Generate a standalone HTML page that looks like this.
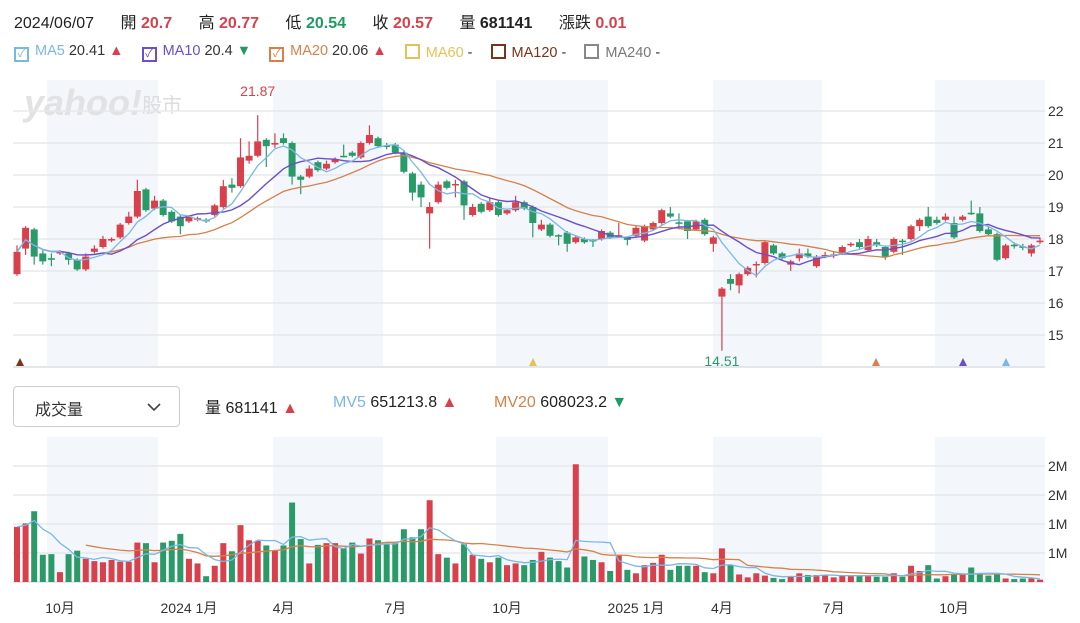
<!DOCTYPE html>
<html><head><meta charset="utf-8">
<style>
body{margin:0;background:#fff;font-family:"Liberation Sans","Noto Sans CJK TC",sans-serif;}
#wrap{position:relative;width:1080px;height:623px;overflow:hidden;}
.hdr{position:absolute;top:9px;left:14px;font-size:16px;color:#222;white-space:nowrap;}
.hdr span{margin-right:22px}
.hdr b{font-weight:bold}
.r{color:#d8404c}.g{color:#1f9a62}
.leg{position:absolute;top:43px;left:14px;font-size:14.5px;color:#333;white-space:nowrap;}
.leg .it{display:inline-block;margin-right:14px;vertical-align:middle}
.cb{display:inline-block;width:15px;height:15px;border:2px solid;box-sizing:border-box;vertical-align:-2px;margin-right:6px;font-size:11px;line-height:11px;text-align:center}
.dd{position:absolute;left:13px;top:386px;width:167px;height:41px;border:1px solid #ccc;border-radius:4px;box-sizing:border-box;font-size:16px;color:#333;}
.vinfo{position:absolute;top:394px;font-size:16px;white-space:nowrap;color:#222}
</style></head><body>
<div id="wrap">
<div class="hdr">
<span>2024/06/07</span>
<span>開 <b class="r">20.7</b></span>
<span>高 <b class="r">20.77</b></span>
<span>低 <b class="g">20.54</b></span>
<span>收 <b class="r">20.57</b></span>
<span>量 <b>681141</b></span>
<span>漲跌 <b class="r">0.01</b></span>
</div>
<div class="leg">
<span class="it"><span class="cb" style="border-color:#7ab8e4;color:#7ab8e4">✓</span><span style="color:#7ab8e4">MA5</span> 20.41 <span class="r">▲</span></span>
<span class="it"><span class="cb" style="border-color:#6a4fc8;color:#6a4fc8">✓</span><span style="color:#6a4fc8">MA10</span> 20.4 <span class="g">▼</span></span>
<span class="it"><span class="cb" style="border-color:#d7804a;color:#d7804a">✓</span><span style="color:#d7804a">MA20</span> 20.06 <span class="r">▲</span></span>
<span class="it"><span class="cb" style="border-color:#e6c15a"></span><span style="color:#e6c15a">MA60</span> -</span>
<span class="it"><span class="cb" style="border-color:#7a3418"></span><span style="color:#7a3418">MA120</span> -</span>
<span class="it"><span class="cb" style="border-color:#888"></span><span style="color:#777">MA240</span> -</span>
</div>
<div class="dd"><span style="position:absolute;left:21px;top:9px">成交量</span>
<svg style="position:absolute;left:133px;top:15px" width="14" height="10"><polyline points="1,2 7,8 13,2" fill="none" stroke="#444" stroke-width="1.6"/></svg></div>
<div class="vinfo" style="left:205px">量 681141 <span class="r">▲</span></div>
<div class="vinfo" style="left:333px"><span style="color:#7ab8e4">MV5</span> 651213.8 <span class="r">▲</span></div>
<div class="vinfo" style="left:494px"><span style="color:#d7804a">MV20</span> 608023.2 <span class="g">▼</span></div>
<svg id="svg" width="1080" height="623" style="position:absolute;left:0;top:0"></svg>
</div>
<script>
const opens=[16.9,17.7,18.3,17.55,17.4,17.55,17.55,17.35,17.05,17.6,17.75,17.95,18.05,18.5,18.7,19.55,18.95,19.2,18.85,18.7,18.55,18.6,18.6,18.75,19.0,19.7,19.65,20.45,20.6,21.1,20.95,21.15,21.0,19.95,19.95,20.4,20.2,20.4,20.6,20.7,20.55,21.0,21.15,20.92,20.95,20.7,20.05,19.7,18.8,19.15,19.8,19.68,19.8,18.75,19.1,18.9,19.15,18.8,18.9,19.15,19.0,18.3,18.45,18.12,18.2,17.9,18.0,17.97,18.0,18.2,18.1,18.02,18.1,17.95,18.3,18.5,18.8,18.52,18.55,18.3,18.6,17.85,16.2,16.75,16.55,16.9,17.18,17.25,17.8,17.55,17.2,17.4,17.55,17.15,17.45,17.48,17.55,17.8,17.9,17.65,17.9,17.75,17.6,17.95,18.0,18.4,18.7,18.6,18.6,18.5,18.6,18.82,18.8,18.3,18.15,17.4,17.82,17.77,17.55,17.9];
const closes=[17.6,18.35,17.45,17.3,17.35,17.6,17.35,17.05,17.45,17.7,18.0,18.0,18.45,18.7,19.5,18.9,19.2,18.75,18.55,18.4,18.7,18.65,18.55,19.05,19.65,19.6,20.55,20.6,21.05,20.9,21.0,21.0,19.95,19.85,20.2,20.15,20.35,20.5,20.58,20.6,21.0,21.25,20.9,20.88,20.7,20.1,19.45,19.3,19.0,19.7,19.6,19.72,19.05,19.0,18.85,19.15,18.75,18.9,19.15,18.95,18.5,18.45,18.1,18.08,17.85,18.05,17.9,17.93,18.25,18.05,18.12,17.98,18.35,18.4,18.5,18.9,18.7,18.5,18.25,18.55,18.15,18.05,16.45,16.6,16.9,17.1,17.22,17.9,17.55,17.4,17.3,17.55,17.45,17.45,17.5,17.52,17.75,17.85,17.75,18.0,17.8,17.45,18.0,17.9,18.4,18.6,18.4,18.5,18.7,18.05,18.7,18.78,18.25,18.15,17.35,17.8,17.78,17.73,17.8,17.95];
const highs=[17.8,18.4,18.35,17.65,17.55,17.65,17.6,17.4,17.55,17.8,18.1,18.05,18.5,18.85,19.85,19.6,19.35,19.25,18.9,18.75,18.75,18.7,18.65,19.1,19.85,19.9,21.15,21.05,21.87,21.15,21.3,21.3,21.05,20.0,20.3,20.45,20.45,20.55,20.95,20.75,21.05,21.55,21.2,21.0,21.0,20.75,20.1,19.8,19.15,19.8,19.85,19.85,19.85,19.1,19.15,19.3,19.2,18.95,19.35,19.2,19.05,18.6,18.5,18.15,18.25,18.1,18.05,18.0,18.3,18.25,18.5,18.05,18.4,18.45,18.55,18.95,19.0,18.8,18.6,18.6,18.65,18.1,16.5,16.9,16.95,17.15,17.3,17.95,17.85,17.6,17.35,17.7,17.7,17.5,17.6,17.6,17.8,17.9,18.0,18.1,18.0,17.8,18.05,18.0,18.45,18.65,19.0,18.7,18.8,18.7,18.75,19.2,19.0,18.4,18.2,17.85,17.9,17.85,17.85,18.05];
const lows=[16.85,17.5,17.2,17.2,17.15,17.5,17.2,17.0,17.0,17.55,17.7,17.9,18.0,18.45,18.65,18.85,18.9,18.7,18.5,18.15,18.5,18.55,18.5,18.7,18.95,19.45,19.6,20.35,20.55,20.25,20.85,20.95,19.7,19.4,19.9,20.1,20.15,20.35,20.55,20.55,20.5,20.95,20.85,20.8,20.65,20.05,19.2,19.0,17.7,19.1,19.55,19.3,18.6,18.7,18.8,18.85,18.7,18.75,18.85,18.9,18.05,18.25,18.05,17.8,17.6,17.85,17.85,17.75,17.95,18.0,18.05,17.8,18.05,17.9,18.25,18.45,18.65,18.3,18.0,18.25,18.1,17.6,14.51,16.4,16.3,16.85,16.8,17.2,17.5,17.35,17.0,17.3,17.4,17.1,17.4,17.4,17.5,17.75,17.7,17.6,17.75,17.35,17.55,17.5,17.95,18.25,18.35,18.45,18.55,18.0,18.55,18.75,18.2,18.1,17.3,17.35,17.7,17.65,17.45,17.85];
const volumes=[0.95,1.01,1.22,0.47,0.48,0.17,0.48,0.54,0.40,0.36,0.34,0.38,0.35,0.35,0.68,0.67,0.34,0.68,0.71,0.83,0.40,0.32,0.10,0.28,0.67,0.53,0.98,0.72,0.71,0.63,0.54,0.63,1.37,0.74,0.32,0.64,0.67,0.67,0.58,0.68,0.49,0.75,0.72,0.65,0.67,0.91,0.77,0.91,1.41,0.48,0.42,0.32,0.65,0.47,0.40,0.34,0.42,0.29,0.32,0.29,
0.38,0.52,0.42,0.36,0.25,2.03,0.44,0.38,0.34,0.19,0.47,0.21,0.15,0.29,0.33,0.47,0.21,0.28,0.28,0.28,0.17,0.15,0.58,0.30,0.13,0.08,0.15,0.11,0.07,0.05,0.09,0.15,0.12,0.12,0.12,0.08,0.11,0.11,0.12,0.12,0.09,0.09,0.15,0.09,0.28,0.19,0.29,0.06,0.10,0.13,0.13,0.25,0.13,0.11,0.13,0.06,0.05,0.06,0.06,0.04];
const priceTicks=[22,21,20,19,18,17,16,15];
const volTicks=[0.5,1.0,1.5,2.0];
const volTickLabels=["1M","1M","2M","2M"];
const monthLabels=["10月","2024 1月","4月","7月","10月","2025 1月","4月","7月","10月"];
const monthIdx=[5,20,31,44,57,72,82,95,109];

const NS="http://www.w3.org/2000/svg";
const svg=document.getElementById('svg');
function el(t,a,p){const e=document.createElementNS(NS,t);for(const k in a)e.setAttribute(k,a[k]);(p||svg).appendChild(e);return e;}
const N=closes.length;
const X0=17,X1=1040;
const xAt=i=>X0+i*(X1-X0)/(N-1);
const yP=p=>111+(22-p)*32;
const yV=v=>582-v*58;
const RED="#d8404c",GREEN="#2b9a69";

const bands=[[47,158],[273,383],[496,608],[713,822],[935,1045]];
bands.forEach(b=>{
  let r=el('rect',{x:b[0],y:80,width:b[1]-b[0],height:287,fill:'#f3f6fa'});
  
  
  r=el('rect',{x:b[0],y:437,width:b[1]-b[0],height:145,fill:'#f3f6fa'});
  
  
});
let wm=el('text',{x:24,y:115,'font-size':36,'font-weight':'bold','font-style':'italic',fill:'#e2e2e2','font-family':'Liberation Sans, sans-serif'});
wm.textContent='yahoo!';


let wm2=el('text',{x:142,y:112,'font-size':20,fill:'#dcdcdc','font-family':'Noto Sans CJK TC, sans-serif'});
wm2.textContent='股市';



priceTicks.forEach(t=>{
  const g=el('line',{x1:13,x2:1045,y1:yP(t),y2:yP(t),stroke:'#e6e8eb','stroke-width':1.5});
  
  
  const tx=el('text',{x:1048,y:yP(t)+5,'font-size':14,fill:'#333'});
  tx.textContent=t;
  
  
});
let ax=el('line',{x1:13,x2:1045,y1:367,y2:367,stroke:'#dcdfe3','stroke-width':1.5});



volTicks.forEach((t,k)=>{
  const g=el('line',{x1:13,x2:1045,y1:yV(t),y2:yV(t),stroke:'#e6e8eb','stroke-width':1.5});
  
  
  const tx=el('text',{x:1048,y:yV(t)+5,'font-size':14,fill:'#333'});
  tx.textContent=volTickLabels[k];
  
  
});
let vb=el('line',{x1:13,x2:1045,y1:582,y2:582,stroke:'#dcdfe3','stroke-width':1.5});



monthLabels.forEach((m,k)=>{
  const tx=el('text',{x:xAt(monthIdx[k]),y:613,'font-size':14,fill:'#333','text-anchor':'middle'});
  tx.textContent=m;
  
  
});

function ma(arr,n,start){const out=[];for(let i=0;i<arr.length;i++){if(i<start){out.push(null);continue;}const s=Math.max(0,i-n+1);let sum=0;for(let j=s;j<=i;j++)sum+=arr[j];out.push(sum/(i-s+1));}return out;}
function line(vals,yf,color,name,w){
  let d='';vals.forEach((v,i)=>{if(v==null)return;d+=(d?'L':'M')+xAt(i).toFixed(1)+','+yf(v).toFixed(1);});
  const p=el('path',{d:d,fill:'none',stroke:color,'stroke-width':w||1.4});
  
  
}

volumes.forEach((v,i)=>{
  const up=closes[i]>=opens[i];
  const r=el('rect',{x:xAt(i)-3,y:yV(v),width:6,height:582-yV(v),fill:up?RED:GREEN});
  
  
});
line(ma(volumes,20,8),yV,'#d7804a','mv20-line',1.3);
line(ma(volumes,5,0),yV,'#7ab8e4','mv5-line',1.3);

for(let i=0;i<N;i++){
  const up=closes[i]>=opens[i];const c=up?RED:GREEN;const x=xAt(i);
  const w=el('line',{x1:x,x2:x,y1:yP(highs[i]),y2:yP(lows[i]),stroke:c,'stroke-width':1.2});
  
  
  const top=yP(Math.max(opens[i],closes[i])),bot=yP(Math.min(opens[i],closes[i]));
  const b=el('rect',{x:x-3.5,y:top,width:7,height:Math.max(1.5,bot-top),fill:c});
  
  
}
line(ma(closes,20,8),yP,'#d7804a','ma20-line',1.3);
line(ma(closes,10,0),yP,'#6a4fc8','ma10-line',1.4);
line(ma(closes,5,0),yP,'#7ab8e4','ma5-line',1.3);

let iH=0,iL=0;highs.forEach((h,i)=>{if(h>highs[iH])iH=i;});lows.forEach((l,i)=>{if(l<lows[iL])iL=i;});
let th=el('text',{x:xAt(iH),y:yP(highs[iH])-19,'font-size':14,fill:RED,'text-anchor':'middle'});
th.textContent=highs[iH].toFixed(2);


let tl=el('text',{x:xAt(iL),y:366,'font-size':14,fill:GREEN,'text-anchor':'middle'});
tl.textContent=lows[iL].toFixed(2);



const triX=[20,533,876,963,1006],triC=['#7a3418','#e6c15a','#d7804a','#6a4fc8','#7ab8e4'];
triX.forEach((x,k)=>{
  const t=el('polygon',{points:`${x-4},366 ${x+4},366 ${x},358`,fill:triC[k]});
  
  
});
</script>
</body></html>
